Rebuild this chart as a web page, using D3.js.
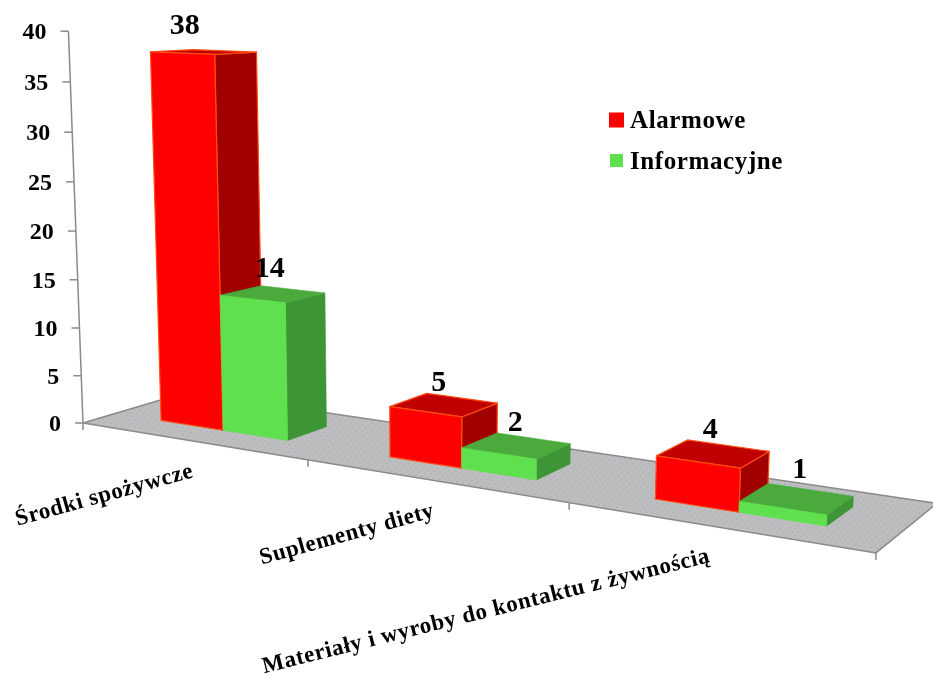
<!DOCTYPE html>
<html>
<head>
<meta charset="utf-8">
<script src="https://cdn.jsdelivr.net/npm/d3@7/dist/d3.min.js"></script>
<style>
html,body{margin:0;padding:0;background:#fff}
svg{display:block;filter:blur(0.4px)}
text{font-family:"Liberation Serif",serif;font-weight:bold;fill:#000}
</style>
</head>
<body>
<svg id="chart" width="933" height="679"></svg>
<script>
const categories = ["Środki spożywcze", "Suplementy diety", "Materiały i wyroby do kontaktu z żywnością"];
const seriesNames = ["Alarmowe", "Informacyjne"];
const alarmowe = [38, 5, 4];
const informacyjne = [14, 2, 1];
const valueTicks = [0, 5, 10, 15, 20, 25, 30, 35, 40];

const colors = {
  Alarmowe: {front:"#ff0000", top:"#c00000", side:"#a00000", edge:"#ff4a10"},
  Informacyjne: {front:"#5fe04e", top:"#4aab3c", side:"#3d9535", edge:"none"}
};
const labelNudge = {Alarmowe:[[-19,-28],[-5,-24],[-3,-26]], Informacyjne:[[-3,-27],[-1,-25],[3,-31]]};
const categoryLabelLayout = [{dx:3,dy:36,rot:-15.5},{dx:2,dy:36,rot:-15.5},{dx:-5,dy:35,rot:-14}];

const svg = d3.select("#chart");

// camera: floor plane (u along categories, v in depth) plus height t
const M = {a:611,b:118.5,c:83,d:15.1,e:-1.5,f:423,g:-0.2077,h:0.075, vx:435, vy:9900};
const heightScale = d3.scaleLinear().domain([0,40]).range([0,0.0397]);
function project(u, v, value){
  const t = heightScale(value);
  const w = M.g*u + M.h*v + 1 - t;
  return [
    (M.a*u + M.b*v + M.c - t*M.vx)/w,
    (M.d*u + M.e*v + M.f - t*M.vy)/w
  ];
}
const uBand = d3.scaleBand().domain(categories).range([0,1]).paddingInner(0.43).paddingOuter(0.215);
const uSeries = d3.scaleBand().domain(seriesNames).range([0,uBand.bandwidth()]);
const depth = d3.scaleLinear().domain([0,1]).range([0.3,0.7]);
const path = pts => "M" + pts.map(p => p.map(n=>n.toFixed(2)).join(",")).join("L") + "Z";

// floor pattern
const defs = svg.append("defs");
const pat = defs.append("pattern").attr("id","floorDots").attr("patternUnits","userSpaceOnUse")
  .attr("width",6).attr("height",7).attr("patternTransform","rotate(9)");
pat.append("rect").attr("width",6).attr("height",7).attr("fill","#bebebe");
pat.append("circle").attr("cx",1.5).attr("cy",2).attr("r",0.8).attr("fill","#9ea8c0");
pat.append("circle").attr("cx",4.5).attr("cy",5.5).attr("r",0.8).attr("fill","#9ea8c0");

svg.append("path")
  .attr("d", path([project(0,0,0),project(1,0,0),project(1,1,0),project(0,1,0)]))
  .attr("fill","url(#floorDots)").attr("stroke","#8a8a8a").attr("stroke-width",1.5);

// value axis
const axisG = svg.append("g");
const a0 = project(0,0,0), a1 = project(0,0,d3.max(valueTicks));
axisG.append("line").attr("x1",a0[0]).attr("y1",a0[1]).attr("x2",a1[0]).attr("y2",a1[1])
  .attr("stroke","#8a8a8a").attr("stroke-width",1.5);
valueTicks.forEach(v => {
  const p = project(0,0,v);
  axisG.append("line").attr("x1",p[0]-8).attr("y1",p[1]).attr("x2",p[0]).attr("y2",p[1])
    .attr("stroke","#8a8a8a").attr("stroke-width",1.5);
  axisG.append("text").attr("x",p[0]-22).attr("y",p[1]+8).attr("text-anchor","end")
    .attr("font-size",24).text(v);
});

// category ticks and labels
const edges = [0].concat(categories.map(c => uBand(c)+uBand.bandwidth()+uBand.step()*uBand.paddingInner()/2));
edges.forEach(u => {
  const p = project(u,0,0);
  axisG.append("line").attr("x1",p[0]).attr("y1",p[1]).attr("x2",p[0]).attr("y2",p[1]+7)
    .attr("stroke","#8a8a8a").attr("stroke-width",1.5);
});
categories.forEach((c,i) => {
  const p = project(uBand(c)+uBand.bandwidth()/2,0,0), l = categoryLabelLayout[i];
  svg.append("text").attr("transform",`translate(${p[0]+l.dx},${p[1]+l.dy}) rotate(${l.rot})`)
    .attr("text-anchor","end").attr("font-size",23).attr("letter-spacing",0.6).text(c);
});

// bars
const series = [{name:seriesNames[0],values:alarmowe},{name:seriesNames[1],values:informacyjne}];
const barsG = svg.append("g"), labelsG = svg.append("g");
categories.forEach((cat,i) => {
  series.forEach(s => {
    const col = colors[s.name], val = s.values[i];
    const u0 = uBand(cat)+uSeries(s.name), u1 = u0+uSeries.bandwidth();
    const v0 = depth(0), v1 = depth(1);
    const faces = [
      {pts:[project(u1,v0,0),project(u1,v1,0),project(u1,v1,val),project(u1,v0,val)],fill:col.side},
      {pts:[project(u0,v0,val),project(u1,v0,val),project(u1,v1,val),project(u0,v1,val)],fill:col.top},
      {pts:[project(u0,v0,0),project(u1,v0,0),project(u1,v0,val),project(u0,v0,val)],fill:col.front}
    ];
    barsG.selectAll(null).data(faces).enter().append("path")
      .attr("d",f=>path(f.pts)).attr("fill",f=>f.fill)
      .attr("stroke",col.edge==="none"?(f=>f.fill):col.edge)
      .attr("stroke-width",col.edge==="none"?0.6:1.2).attr("stroke-linejoin","round");
    const c = project((u0+u1)/2,0.5,val), n = labelNudge[s.name][i];
    labelsG.append("text").attr("x",c[0]+n[0]).attr("y",c[1]+n[1]+10)
      .attr("text-anchor","middle").attr("font-size",30).text(val);
  });
});

// legend
const legendRows = [{y:120,size:15,base:128},{y:160.5,size:13,base:169}];
series.forEach((s,i) => {
  const r = legendRows[i];
  svg.append("rect").attr("x",616.5-r.size/2).attr("y",r.y-r.size/2).attr("width",r.size).attr("height",r.size)
    .attr("fill",colors[s.name].front);
  svg.append("text").attr("x",630).attr("y",r.base).attr("font-size",25).attr("letter-spacing",0.6).text(s.name);
});
</script>
</body>
</html>
